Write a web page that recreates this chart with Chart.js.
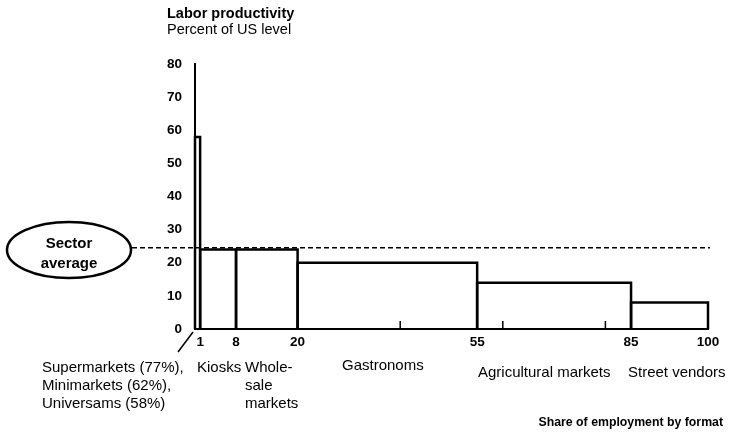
<!DOCTYPE html>
<html>
<head>
<meta charset="utf-8">
<style>
    html, body { margin: 0; padding: 0; background: #fff; }
    #chart { display: block; }
</style>
<script src="https://cdn.jsdelivr.net/npm/chart.js@4/dist/chart.umd.min.js"></script>
</head>
<body>
<canvas id="chart" width="729" height="434"></canvas>
<script>
const boundaries = [0, 1, 8, 20, 55, 85, 100];
const productivity = [58, 24, 24, 20, 14, 8];
const formats = ['Supermarkets', 'Kiosks', 'Wholesale markets', 'Gastronoms', 'Agricultural markets', 'Street vendors'];
const xTicks = [1, 8, 20, 55, 85, 100];
const minorTicks = [20, 40, 60, 80];
const sectorAverage = 24.5;

const FONT = '"Liberation Sans", Arial, Helvetica, sans-serif';

// each format is an outlined box from its left to its right share boundary
const datasets = formats.map((name, i) => {
    const x0 = boundaries[i];
    const x1 = boundaries[i + 1];
    const h = productivity[i];
    return {
        type: 'line',
        label: name,
        data: [{ x: x0, y: 0 }, { x: x0, y: h }, { x: x1, y: h }, { x: x1, y: 0 }],
        borderColor: '#000',
        borderWidth: 2.5,
        pointRadius: 0,
        fill: false,
        tension: 0,
        clip: false
    };
});

const annotations = {
    id: 'annotations',
    afterDraw(chart) {
        const ctx = chart.ctx;
        const x = chart.scales.x;
        const y = chart.scales.y;
        const area = chart.chartArea;
        ctx.save();
        ctx.fillStyle = '#000';
        ctx.strokeStyle = '#000';

        // sector average dashed line
        const avgY = y.getPixelForValue(sectorAverage);
        ctx.setLineDash([5, 3]);
        ctx.lineWidth = 1.5;
        ctx.beginPath();
        ctx.moveTo(132, avgY);
        ctx.lineTo(area.right + 2, avgY);
        ctx.stroke();
        ctx.setLineDash([]);

        // ellipse label
        ctx.lineWidth = 2.5;
        ctx.beginPath();
        ctx.ellipse(69, 250, 62, 28, 0, 0, Math.PI * 2);
        ctx.stroke();
        ctx.font = 'bold 15px ' + FONT;
        ctx.textAlign = 'center';
        ctx.textBaseline = 'alphabetic';
        ctx.fillText('Sector', 69, 248);
        ctx.fillText('average', 69, 268);

        // small ticks on x axis
        ctx.lineWidth = 1.5;
        minorTicks.forEach(v => {
            const px = x.getPixelForValue(v);
            ctx.beginPath();
            ctx.moveTo(px, area.bottom);
            ctx.lineTo(px, area.bottom - 8);
            ctx.stroke();
        });

        // slash pointing to the first box
        ctx.lineWidth = 1.5;
        ctx.beginPath();
        ctx.moveTo(193, 332);
        ctx.lineTo(178, 352);
        ctx.stroke();

        // titles
        ctx.textAlign = 'left';
        ctx.font = 'bold 14.5px ' + FONT;
        ctx.fillText('Labor productivity', 167, 18);
        ctx.font = '14.5px ' + FONT;
        ctx.fillText('Percent of US level', 167, 34);

        // category labels
        ctx.font = '15px ' + FONT;
        ctx.fillText('Supermarkets (77%),', 42, 372);
        ctx.fillText('Minimarkets (62%),', 42, 390);
        ctx.fillText('Universams (58%)', 42, 408);
        ctx.fillText('Kiosks', 197, 372);
        ctx.fillText('Whole-', 245, 372);
        ctx.fillText('sale', 245, 390);
        ctx.fillText('markets', 245, 408);
        ctx.fillText('Gastronoms', 342, 370);
        ctx.fillText('Agricultural markets', 478, 377);
        ctx.fillText('Street vendors', 628, 377);

        ctx.textAlign = 'right';
        ctx.font = 'bold 12.3px ' + FONT;
        ctx.fillText('Share of employment by format', 723, 426);
        ctx.restore();
    }
};

new Chart(document.getElementById('chart').getContext('2d'), {
    type: 'line',
    data: { datasets: datasets },
    options: {
        responsive: false,
        animation: false,
        layout: { padding: { left: 0, top: 64, right: 21, bottom: 0 } },
        plugins: {
            legend: { display: false },
            tooltip: { enabled: false }
        },
        scales: {
            x: {
                type: 'linear',
                min: 0,
                max: 100,
                grid: { display: false },
                border: { display: true, color: '#000', width: 2 },
                ticks: {
                    color: '#000',
                    padding: -3,
                    autoSkip: false,
                    maxRotation: 0,
                    font: { family: FONT, size: 13.5, weight: 'bold' }
                },
                afterBuildTicks: scale => {
                    scale.ticks = xTicks.map(v => ({ value: v }));
                },
                afterFit: scale => {
                    scale.height = 105;
                }
            },
            y: {
                min: 0,
                max: 80,
                grid: { display: false },
                border: { display: true, color: '#000', width: 2 },
                ticks: {
                    stepSize: 10,
                    color: '#000',
                    padding: 5,
                    font: { family: FONT, size: 13.5, weight: 'bold' }
                },
                afterFit: scale => {
                    scale.width = 195;
                }
            }
        }
    },
    plugins: [annotations]
});
</script>
</body>
</html>
